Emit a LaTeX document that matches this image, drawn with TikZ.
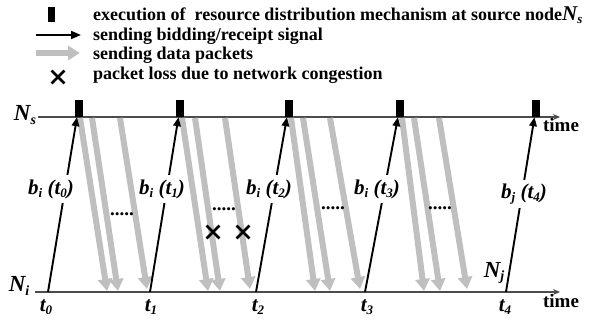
\documentclass[tikz,border=0pt]{standalone}
\usepackage{fontspec}
\setmainfont{Liberation Serif}
\usetikzlibrary{arrows.meta,shapes.misc}
\newcommand\sbx[1]{\raisebox{-0.35ex}{\fontsize{13}{13}\selectfont #1}}
\newcommand\sbxx[1]{\raisebox{-0.35ex}{\fontsize{14}{14}\selectfont #1}}
\begin{document}
\begin{tikzpicture}[x=1pt,y=-1pt,
  axis/.style={draw=black!70, line width=1.1pt, -{Stealth[length=7pt,width=6pt]}},
  blk/.style={fill=black, minimum width=8pt, minimum height=17pt, inner sep=0pt},
  sig/.style={line width=1.9pt, -{Triangle[length=9pt,width=7.5pt]}},
  data/.style={line width=6pt, draw=gray!50, -{Triangle[length=12pt,width=14pt]}},
  lbl/.style={font=\fontsize{21}{22}\selectfont\bfseries\itshape, fill=white, inner xsep=0.5pt, inner ysep=4pt},
  tlbl/.style={font=\fontsize{21}{22}\selectfont\bfseries\itshape, inner sep=0pt},
  nlbl/.style={font=\fontsize{23}{24}\selectfont\bfseries\itshape, inner sep=0pt},
  leg/.style={font=\fontsize{18}{20}\selectfont\bfseries, anchor=base west, inner sep=0pt},
  lost/.style={draw, cross out, line width=2.8pt, minimum size=10pt, inner sep=0pt},
  dots/.style={font=\fontsize{19}{20}\selectfont\bfseries, anchor=base, inner sep=0pt}]
\useasboundingbox (0,0) rectangle (597,324);

% legend
\node[blk, minimum width=7pt, minimum height=15pt] (lb) at (51.5,14.5) {};
\node[leg] (lt1) at (93,20) {execution of\ \ resource distribution mechanism at source node{\fontsize{21}{22}\selectfont\itshape N\sbx{s}}};
\coordinate (la1) at (36,35); \coordinate (la2) at (81,35);
\draw[sig, -{Triangle[length=10pt,width=8pt]}] (la1) -- (la2);
\node[leg] (lt2) at (93,40) {sending bidding/receipt signal};
\coordinate (lg1) at (36,53); \coordinate (lg2) at (80,53);
\draw[data] (lg1) -- (lg2);
\node[leg] (lt3) at (93,59) {sending data packets};
\node[lost] (lx) at (58,77) {};
\node[leg] (lt4) at (93,79) {packet loss due to network congestion};

% axes
\coordinate (ns0) at (38,117); \coordinate (ns1) at (560,117);
\coordinate (ni0) at (35,292); \coordinate (ni1) at (560,292);
\draw[axis] (ns0) -- (ns1);
\draw[axis] (ni0) -- (ni1);
\node[nlbl] (Ns) at (25,115) {N\sbxx{s}};
\node[nlbl] (Ni) at (19,286) {N\sbxx{i}};
\node[nlbl] (Nj) at (494,273) {N\sbxx{j}};
\node[font=\fontsize{19}{20}\selectfont\bfseries, inner sep=0pt] (tm1) at (561,125) {time};
\node[font=\fontsize{19}{20}\selectfont\bfseries, inner sep=0pt] (tm2) at (561,301) {time};

% data packets
\foreach \sx/\ex/\ey [count=\k] in {80/107/291,92/118/291,120/147/289,
  182/208/291,195/220/291,225/250/289,
  291/315/291,303/330/291,330/360/289,
  402/424/291,414/440/291,439/467/289}{
  \coordinate (ds\k) at (\sx,118);
  \coordinate (de\k) at (\ex,\ey);
  \draw[data] (ds\k) -- (de\k);
}

% blocks
\node[blk] (b0) at (78.5,108.5) {};
\node[blk] (b1) at (180,108.5) {};
\node[blk] (b2) at (288.5,108.5) {};
\node[blk] (b3) at (399.5,108.5) {};
\node[blk] (b4) at (536,108.5) {};

% time points
\coordinate (p0) at (48,292);
\coordinate (p1) at (150,292);
\coordinate (p2) at (256,292);
\coordinate (p3) at (365,292);
\coordinate (p4) at (506,292);

% signals
\draw[sig] (p0) -- (b0.-100);
\draw[sig] (p1) -- (b1.-100);
\draw[sig] (p2) -- (b2.-100);
\draw[sig] (p3) -- (b3.-100);
\draw[sig] (p4) -- (b4.-100);

\node[lbl] (l0) at (51,189) {b\sbx{i} (t\sbx{0})};
\node[lbl] (l1) at (162,189) {b\sbx{i} (t\sbx{1})};
\node[lbl] (l2) at (269,189) {b\sbx{i} (t\sbx{2})};
\node[lbl] (l3) at (377,189) {b\sbx{i} (t\sbx{3})};
\node[lbl] (l4) at (524,194) {b\sbx{j} (t\sbx{4})};

\node[tlbl] (t0) at (46,307) {t\sbx{0}};
\node[tlbl] (t1) at (151,307) {t\sbx{1}};
\node[tlbl] (t2) at (258,307) {t\sbx{2}};
\node[tlbl] (t3) at (367,307) {t\sbx{3}};
\node[tlbl] (t4) at (505,307) {t\sbx{4}};

% dots
\node[dots] (d1) at (122,215) {.....};
\node[dots] (d2) at (224,210) {.....};
\node[dots] (d3) at (333,209) {.....};
\node[dots] (d4) at (440,209) {.....};

% losses
\node[lost] (x1) at (213,232) {};
\node[lost] (x2) at (243,232) {};
\end{tikzpicture}
\end{document}
